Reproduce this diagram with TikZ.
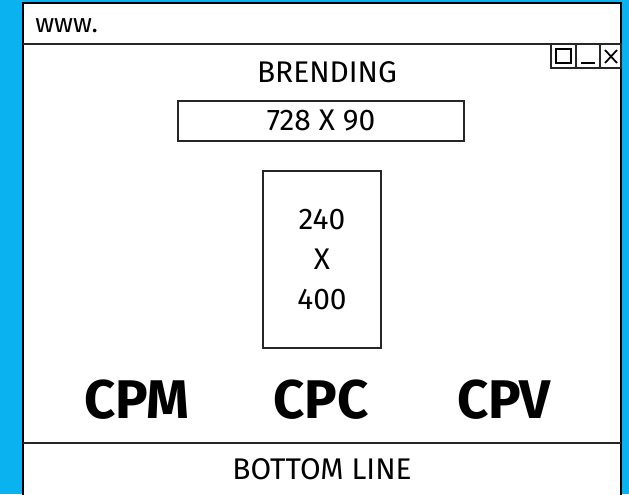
\documentclass[tikz,border=0pt]{standalone}
\usepackage{fontspec}
\setmainfont{Fira Sans}
\usetikzlibrary{positioning}
\definecolor{skyblue}{RGB}{10,178,240}

\begin{document}
\begin{tikzpicture}[x=0.02cm,y=-0.02cm]
    \tikzset{frame/.style={draw=black, line width=1.3pt},
      rule/.style={draw=black!85, line width=1pt},
      banner/.style={draw=black!85, line width=1pt, inner sep=0pt,
        font=\fontsize{17}{22.7}\selectfont, align=center},
      caption/.style={inner sep=0pt, font=\fontsize{17}{20}\selectfont},
      model/.style={inner sep=0pt, font=\fontsize{31}{36}\selectfont\bfseries}
    }

    \useasboundingbox (0,0) rectangle (629,494);
    \clip (0,0) rectangle (629,494);
    \fill[skyblue] (0,0) rectangle (629,494);

    % browser window
    \draw[frame, fill=white] (23,3) rectangle (621,520);
    \draw[rule] (23,44) -- (621,44);
    \draw[rule] (23,443) -- (621,443);

    % window buttons
    \draw[rule] (551,44) rectangle (621,68);
    \draw[rule] (576,44) -- (576,68);
    \draw[rule] (600,44) -- (600,68);
    \draw[line width=1.2pt] (556,49) rectangle (571,63);
    \draw[line width=1.2pt] (581,63) -- (595,63);
    \draw[line width=1pt] (605,50) -- (617,63) (617,50) -- (605,63);

    \node[caption, anchor=west, font=\fontsize{15}{18}\selectfont] (url) at (35,26) {www.};
    \node[caption] (brand) at (327,72) {BRENDING};

    \node[banner, minimum width=5.72cm, minimum height=0.8cm] (leader) at (321,121) {728 X 90};
    \node[banner, minimum width=2.36cm, minimum height=3.54cm] (sky) at (322,259.5) {240\\X\\400};

    \node[model] (cpc) at (321,400) {CPC};
    \node[model] (cpm) at (137,400) {CPM};
    \node[model] (cpv) at (504,400) {CPV};

    \node[caption] (footer) at (322,469) {BOTTOM LINE};
  \end{tikzpicture}
\end{document}
